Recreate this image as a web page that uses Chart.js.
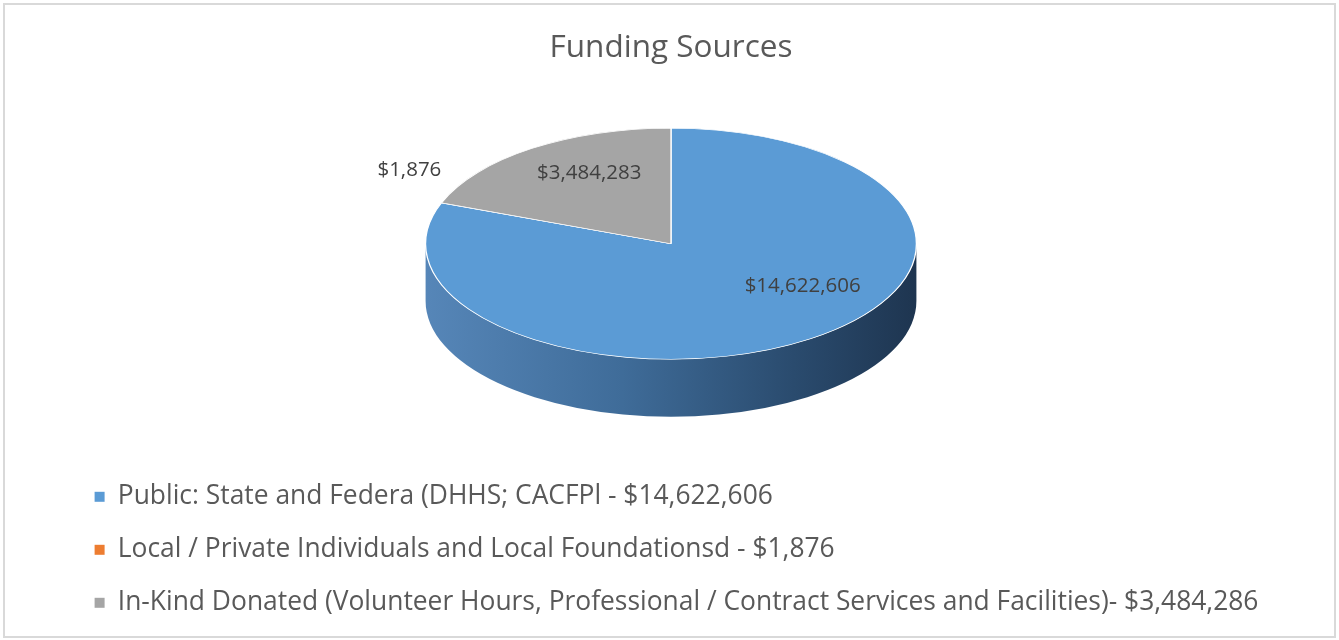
<!DOCTYPE html>
<html>
<head>
<meta charset="utf-8">
<title>Funding Sources</title>
<script src="https://cdn.jsdelivr.net/npm/chart.js@4.4.1/dist/chart.umd.min.js"></script>
<style>
    body { margin: 0; background: #fff; }
    canvas { display: block; }
</style>
</head>
<body>
<canvas id="canvas" width="1339" height="640"></canvas>
<script>
    // values
    const sourceNames = [
        "Public: State and Federa (DHHS; CACFPl - $14,622,606",
        "Local / Private Individuals and Local Foundationsd - $1,876",
        "In-Kind Donated (Volunteer Hours, Professional / Contract Services and Facilities)- $3,484,286"
    ];
    const sourceAmounts = [14622606, 1876, 3484283];
    const sliceColors = ["#5B9BD5", "#ED7D31", "#A5A5A5"];

    const FONT = "'Open Sans', Calibri, sans-serif";

    // how the flat pie gets tipped over into a 3d disc
    const stretchX = 1.333;   // horizontal radius / chart.js radius
    const squashY = 0.471;    // vertical radius / horizontal radius
    const depthRatio = 0.234; // side height / horizontal radius

    // where excel put the value labels: turn (degrees) away from the
    // slice middle, and distance from the centre as part of the radius
    const labelPlacement = [
        { turn: -21, dist: 0.65 },
        { turn: 10, dist: 1.24 },
        { turn: 6, dist: 0.695 }
    ];

    function discGeometry(chart) {
        const arc = chart.getDatasetMeta(0).data[0];
        const rx = arc.outerRadius * stretchX;
        const ry = rx * squashY;
        const depth = rx * depthRatio;
        return {
            cx: arc.x, cy: arc.y, r: arc.outerRadius,
            rx: rx, ry: ry, depth: depth,
            ey: arc.y - depth / 2
        };
    }

    // side wall colour, lighter on the left, dark on the right
    function wallGradient(ctx, g) {
        const grad = ctx.createLinearGradient(g.cx - g.rx, 0, g.cx + g.rx, 0);
        grad.addColorStop(0, "#5686b8");
        grad.addColorStop(0.4, "#3f6c99");
        grad.addColorStop(0.75, "#2a4b6e");
        grad.addColorStop(1, "#1e3550");
        return grad;
    }

    const border = {
        id: "border",
        beforeDraw(chart) {
            const ctx = chart.ctx;
            ctx.save();
            ctx.strokeStyle = "#d9d9d9";
            ctx.lineWidth = 2;
            ctx.strokeRect(4, 4, 1331, 633);
            ctx.restore();
        }
    };

    const disc3d = {
        id: "disc3d",
        beforeDatasetsDraw(chart) {
            const ctx = chart.ctx;
            const g = discGeometry(chart);
            const arcs = chart.getDatasetMeta(0).data;

            // draw the front part of the wall under every slice that reaches it
            ctx.save();
            arcs.forEach(function (arc, i) {
                [0, 2 * Math.PI, -2 * Math.PI].forEach(function (shift) {
                    const s = Math.max(arc.startAngle, shift);
                    const e = Math.min(arc.endAngle, shift + Math.PI);
                    if (e <= s) return;
                    ctx.beginPath();
                    ctx.ellipse(g.cx, g.ey, g.rx, g.ry, 0, s, e);
                    ctx.ellipse(g.cx, g.ey + g.depth, g.rx, g.ry, 0, e, s, true);
                    ctx.closePath();
                    ctx.fillStyle = i === 0 ? wallGradient(ctx, g) : sliceColors[i];
                    ctx.fill();
                });
            });
            ctx.restore();

            // the top face: chart.js draws a circle, we squash it into an ellipse
            ctx.save();
            ctx.translate(g.cx, g.ey);
            ctx.scale(g.rx / g.r, g.ry / g.r);
            ctx.translate(-g.cx, -g.cy);
        },
        afterDatasetsDraw(chart) {
            const ctx = chart.ctx;
            ctx.restore();

            const g = discGeometry(chart);
            const arcs = chart.getDatasetMeta(0).data;

            ctx.save();
            ctx.font = "20.5px " + FONT;
            ctx.fillStyle = "#404040";
            ctx.textAlign = "center";
            ctx.textBaseline = "middle";
            arcs.forEach(function (arc, i) {
                const p = labelPlacement[i];
                const a = (arc.startAngle + arc.endAngle) / 2 + p.turn * Math.PI / 180;
                const x = g.cx + Math.cos(a) * g.rx * p.dist;
                const y = g.ey + Math.sin(a) * g.ry * p.dist;
                ctx.fillText("$" + sourceAmounts[i].toLocaleString("en-US"), x, y);
            });
            ctx.restore();
        }
    };

    const ctx = document.getElementById("canvas").getContext("2d");

    const myChart = new Chart(ctx, {
        type: "pie",
        data: {
            labels: sourceNames,
            datasets: [{
                data: sourceAmounts,
                backgroundColor: sliceColors,
                borderColor: "#ffffff",
                borderWidth: 1
            }]
        },
        options: {
            responsive: false,
            animation: false,
            layout: {
                padding: { top: 10, left: 68, right: 65, bottom: 14 }
            },
            plugins: {
                title: {
                    display: true,
                    text: "Funding Sources",
                    color: "#595959",
                    font: { family: FONT, size: 31.5, weight: "normal" },
                    padding: { top: 19, bottom: 21 }
                },
                legend: {
                    position: "bottom",
                    align: "start",
                    labels: {
                        color: "#595959",
                        font: { family: FONT, size: 26.4 },
                        boxWidth: 10,
                        boxHeight: 10,
                        padding: 26.6,
                        generateLabels: function (chart) {
                            const items = Chart.overrides.pie.plugins.legend.labels.generateLabels(chart);
                            items.forEach(function (it) { it.lineWidth = 0; });
                            return items;
                        }
                    },
                    onClick: null
                },
                tooltip: { enabled: false }
            }
        },
        plugins: [border, disc3d]
    });
</script>
</body>
</html>
